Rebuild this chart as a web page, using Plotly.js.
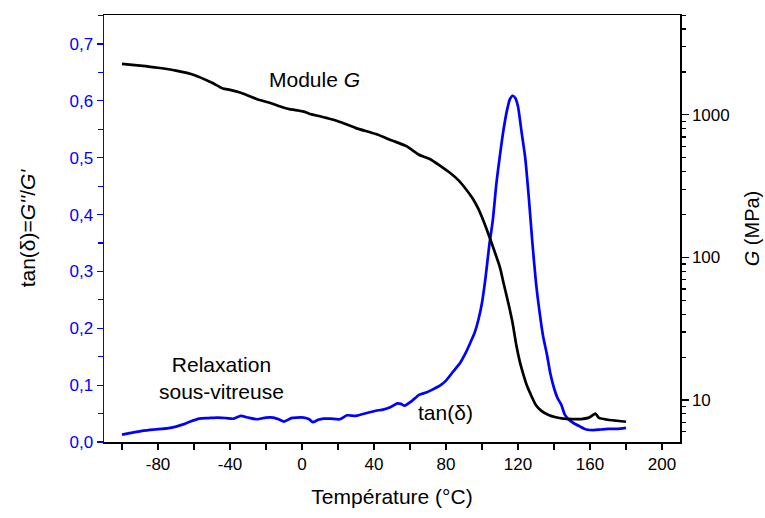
<!DOCTYPE html>
<html>
<head>
<meta charset="utf-8">
<script src="https://cdn.plot.ly/plotly-3.0.1.min.js"></script>
<style>html,body{margin:0;padding:0;background:#fff;}#chart{width:765px;height:518px;}</style>
</head>
<body>
<div id="chart"></div>
<script>
// tan(delta) curve
var tempTan = [-100, -95, -88, -82, -75, -70, -66, -62, -57, -52, -47, -42, -38, -34, -30, -25, -20, -16, -13, -10, -6, -3, 1, 4, 6, 9, 12, 16, 21, 25, 30, 36, 41, 45, 49, 53, 55, 57, 61, 65, 69, 73, 77, 80, 84, 88, 91, 94, 96, 98, 100, 102, 104, 106, 108, 110, 112, 114, 115.5, 117, 118.5, 120, 122, 124, 126, 128, 130, 132, 134, 136, 138, 140, 142, 144, 146, 148, 151, 154, 158, 162, 166, 170, 175, 180];
var tanDelta = [0.013, 0.016, 0.020, 0.022, 0.024, 0.027, 0.031, 0.036, 0.041, 0.042, 0.043, 0.042, 0.041, 0.046, 0.043, 0.040, 0.043, 0.043, 0.040, 0.036, 0.042, 0.043, 0.043, 0.040, 0.035, 0.039, 0.041, 0.041, 0.040, 0.047, 0.046, 0.051, 0.055, 0.057, 0.061, 0.068, 0.067, 0.064, 0.072, 0.083, 0.087, 0.093, 0.100, 0.108, 0.124, 0.140, 0.157, 0.178, 0.193, 0.215, 0.245, 0.29, 0.345, 0.39, 0.455, 0.505, 0.55, 0.585, 0.603, 0.609, 0.605, 0.59, 0.545, 0.50, 0.43, 0.35, 0.28, 0.228, 0.185, 0.155, 0.12, 0.095, 0.077, 0.066, 0.048, 0.040, 0.033, 0.028, 0.022, 0.021, 0.022, 0.023, 0.023, 0.025];

// Module G (MPa)
var tempG = [-100, -90, -80, -70, -60, -50, -44, -40, -34, -25, -18, -12, -7, -2, 1, 4, 10, 14, 20, 30, 41, 50, 58, 65, 71, 77, 82, 87, 91, 95, 98, 101, 104, 107, 110, 112, 115, 117, 119, 121, 123, 125, 127, 130, 133, 137, 141, 145, 150, 155, 159, 161, 163, 165, 170, 175, 180];
var moduleG = [2275, 2213, 2138, 2042, 1905, 1679, 1530, 1496, 1429, 1288, 1216, 1143, 1096, 1072, 1054, 1019, 977, 948, 902, 807, 733, 661, 603, 525, 490, 437, 394, 347, 302, 257, 219, 178, 141, 110, 85, 66, 45.7, 34.7, 24.5, 18.6, 15.1, 12.6, 11.0, 9.2, 8.4, 7.85, 7.57, 7.41, 7.35, 7.36, 7.5, 7.76, 8.04, 7.5, 7.28, 7.16, 7.05];

var xTickVals = [-80, -40, 0, 40, 80, 120, 160, 200];
var yTickVals = [0, 0.1, 0.2, 0.3, 0.4, 0.5, 0.6, 0.7];
var y2TickVals = [10, 100, 1000];

var font = "Liberation Sans, Arial, sans-serif";

var traces = [
  {x: tempTan, y: tanDelta, type: 'scatter', mode: 'lines', line: {color: '#0000ff', width: 2.7, shape: 'spline', smoothing: 0.6}, yaxis: 'y', hoverinfo: 'skip'},
  {x: tempG, y: moduleG, type: 'scatter', mode: 'lines', line: {color: '#000000', width: 2.7, shape: 'spline', smoothing: 0.6}, yaxis: 'y2', hoverinfo: 'skip'}
];

var layout = {
  width: 765, height: 518,
  margin: {l: 104, r: 85, t: 15, b: 76},
  paper_bgcolor: '#fff', plot_bgcolor: '#fff',
  showlegend: false,
  separators: ',.',
  font: {family: font, size: 17, color: '#000'},
  xaxis: {
    range: [-110, 210], tickvals: xTickVals, ticktext: xTickVals.map(String),
    showgrid: false, zeroline: false,
    showline: true, linecolor: '#000', linewidth: 1.5, mirror: true,
    ticks: 'outside', ticklen: 6, tickwidth: 1.2, tickcolor: '#000',
    minor: {dtick: 20, tick0: 0, ticks: 'outside', ticklen: 6, tickcolor: '#000', showgrid: false},
    tickfont: {size: 17, color: '#000'},
    title: {text: 'Température (°C)', font: {size: 21}, standoff: 16}
  },
  yaxis: {
    range: [0, 0.751], tickvals: yTickVals, tickformat: '.1f',
    showgrid: false, zeroline: false,
    showline: true, linecolor: '#0000ff', linewidth: 1.5,
    ticks: 'outside', ticklen: 6, tickwidth: 1.2, tickcolor: '#0000ff',
    minor: {dtick: 0.05, tick0: 0, ticks: 'outside', ticklen: 5, tickcolor: '#0000ff', showgrid: false},
    tickfont: {size: 17, color: '#0000ff'},
    title: {text: "tan(δ)=<i>G''</i>/<i>G'</i>", font: {size: 21, color: '#000'}, standoff: 28}
  },
  yaxis2: {
    type: 'log', range: [0.706, 3.70], overlaying: 'y', side: 'right',
    tickvals: y2TickVals, ticktext: ['10', '100', '1000'],
    showgrid: false, zeroline: false,
    showline: true, linecolor: '#000', linewidth: 1.5,
    ticks: 'outside', ticklen: 7, tickwidth: 1.2, tickcolor: '#000',
    minor: {dtick: 'D1', ticks: 'outside', ticklen: 4, tickcolor: '#000', showgrid: false},
    tickfont: {size: 17, color: '#000'},
    title: {text: '<i>G</i> (MPa)', font: {size: 20, color: '#000'}, standoff: 16}
  },
  annotations: [
    {x: 7, y: 0.637, xref: 'x', yref: 'y', text: 'Module <i>G</i>', showarrow: false, font: {size: 21, color: '#000'}},
    {x: -44.7, y: 0.112, xref: 'x', yref: 'y', text: 'Relaxation<br>sous-vitreuse', showarrow: false, font: {size: 21, color: '#000'}},
    {x: 79.7, y: 0.052, xref: 'x', yref: 'y', text: 'tan(δ)', showarrow: false, font: {size: 21, color: '#000'}}
  ]
};

Plotly.newPlot('chart', traces, layout, {staticPlot: true, displayModeBar: false});
</script>
</body>
</html>
